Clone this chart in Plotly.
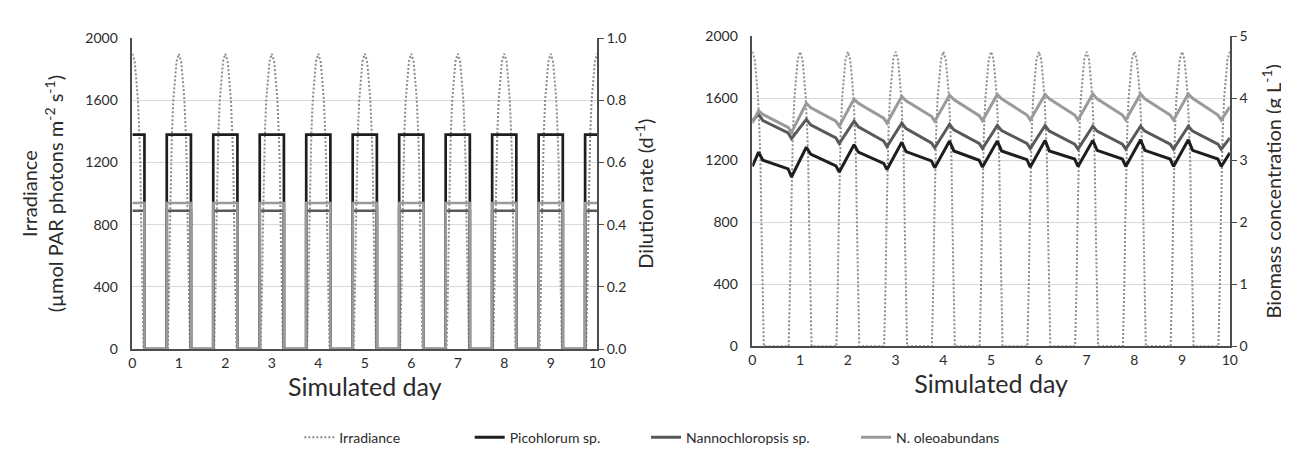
import plotly.graph_objects as go

# ---------------- data ----------------
day_ticks = list(range(0, 11))

# Irradiance: daily light profile (offset from each day's peak, days)
irr_offset = [-0.24, -0.23, -0.21, -0.19, -0.17, -0.15, -0.12, -0.08, -0.05, 0.0,
              0.05, 0.08, 0.12, 0.15, 0.17, 0.19, 0.21, 0.23, 0.24]
irr_value = [0, 100, 400, 800, 1200, 1380, 1600, 1750, 1850, 1900,
             1850, 1750, 1600, 1380, 1200, 800, 400, 100, 0]
irr_days = list(range(0, 11))

# Dilution rate pulses (d^-1): switch times and on/off state
dil_t = [0, 0.26, 0.74, 1.26, 1.74, 2.26, 2.74, 3.26, 3.74, 4.26, 4.74, 5.26,
         5.74, 6.26, 6.74, 7.26, 7.74, 8.26, 8.74, 9.26, 9.74, 10]
dil_on = [1, 0, 1, 0, 1, 0, 1, 0, 1, 0, 1, 0, 1, 0, 1, 0, 1, 0, 1, 0, 1, 1]
dil_pico = 0.69
dil_nanno = 0.445
dil_oleo = 0.47

# Biomass concentration (g L^-1)
bio_t = [0, 0.13, 0.22,
         0.75, 0.82, 1.13, 1.22, 1.75, 1.82, 2.13, 2.22, 2.75, 2.82, 3.13, 3.22,
         3.75, 3.82, 4.13, 4.22, 4.75, 4.82, 5.13, 5.22, 5.75, 5.82, 6.13, 6.22,
         6.75, 6.82, 7.13, 7.22, 7.75, 7.82, 8.13, 8.22, 8.75, 8.82, 9.13, 9.22,
         9.75, 9.82, 10]
bio_pico = [2.90, 3.13, 3.00,
            2.86, 2.73, 3.21, 3.10, 2.91, 2.81, 3.25, 3.13, 2.95, 2.85, 3.29, 3.14,
            2.99, 2.88, 3.31, 3.15, 3.00, 2.89, 3.31, 3.15, 3.01, 2.89, 3.32, 3.15,
            3.02, 2.90, 3.32, 3.16, 3.02, 2.90, 3.33, 3.16, 3.02, 2.90, 3.33, 3.16,
            3.02, 2.90, 3.12]
bio_nanno = [3.64, 3.74, 3.64,
             3.44, 3.35, 3.66, 3.57, 3.36, 3.27, 3.63, 3.54, 3.31, 3.22, 3.60, 3.51,
             3.28, 3.20, 3.58, 3.49, 3.27, 3.19, 3.56, 3.48, 3.27, 3.19, 3.56, 3.47,
             3.26, 3.18, 3.55, 3.47, 3.26, 3.18, 3.55, 3.47, 3.26, 3.18, 3.55, 3.47,
             3.26, 3.18, 3.36]
bio_oleo = [3.60, 3.80, 3.74,
            3.53, 3.45, 3.92, 3.85, 3.63, 3.55, 3.99, 3.92, 3.68, 3.60, 4.03, 3.96,
            3.71, 3.63, 4.05, 3.98, 3.72, 3.64, 4.06, 3.99, 3.73, 3.65, 4.06, 3.99,
            3.73, 3.65, 4.07, 3.99, 3.73, 3.65, 4.07, 3.99, 3.73, 3.65, 4.07, 4.00,
            3.73, 3.65, 3.86]

series_names = ["Irradiance", "Picohlorum sp.", "Nannochloropsis sp.", "N. oleoabundans"]

# ---------------- build ----------------
irr_t, irr_v = [], []
for d in irr_days:
    for off, val in zip(irr_offset, irr_value):
        t = d + off
        if 0 <= t <= 10:
            irr_t.append(round(t, 4))
            irr_v.append(val)

C_IRR = "#8c8c8c"
C_PICO = "#1e1e1e"
C_NANNO = "#595959"
C_OLEO = "#9a9a9a"
FONT = "Lato"
TXT = "#2b2b2b"
AX = "#4d4d4d"
GRID = "#d9d9d9"
DOT = "2px,2px"

fig = go.Figure()

# Left panel
fig.add_trace(go.Scatter(x=irr_t, y=irr_v, mode="lines", name=series_names[0],
                         line=dict(color=C_IRR, width=2, dash=DOT),
                         xaxis="x", yaxis="y", showlegend=False))
for lvl, col, nm in [(dil_pico, C_PICO, series_names[1]),
                     (dil_nanno, C_NANNO, series_names[2]),
                     (dil_oleo, C_OLEO, series_names[3])]:
    fig.add_trace(go.Scatter(x=dil_t, y=[lvl * on for on in dil_on], mode="lines",
                             name=nm, line=dict(color=col, width=2.7, shape="hv"),
                             xaxis="x", yaxis="y2", showlegend=False))

# Right panel
fig.add_trace(go.Scatter(x=irr_t, y=irr_v, mode="lines", name=series_names[0],
                         line=dict(color=C_IRR, width=2, dash=DOT),
                         xaxis="x2", yaxis="y3", legend="legend"))
for vals, col, nm, lg in [(bio_pico, C_PICO, series_names[1], "legend2"),
                          (bio_nanno, C_NANNO, series_names[2], "legend3"),
                          (bio_oleo, C_OLEO, series_names[3], "legend4")]:
    fig.add_trace(go.Scatter(x=bio_t, y=vals, mode="lines", name=nm,
                             line=dict(color=col, width=3),
                             xaxis="x2", yaxis="y4", legend=lg))

tickfont = dict(family=FONT, size=14, color=TXT)
titlefont = dict(family=FONT, size=20, color=TXT)
xtitlefont = dict(family=FONT, size=25, color=TXT)

xcommon = dict(range=[0, 10], tickvals=day_ticks, showgrid=False, zeroline=False,
               showline=True, linecolor=AX, linewidth=1.5, ticks="",
               tickfont=tickfont, title_font=xtitlefont, title_standoff=2)
ycommon = dict(range=[0, 2000], tickvals=[0, 400, 800, 1200, 1600, 2000],
               showgrid=True, gridcolor=GRID, gridwidth=1, zeroline=False,
               showline=True, linecolor=AX, linewidth=1.5, ticks="",
               ticklabelstandoff=10, tickfont=tickfont, title_font=titlefont)

yl_dom = [1 - 345 / 456, 1 - 22 / 456]
yr_dom = [1 - 342 / 456, 1 - 20 / 456]

fig.update_layout(
    width=1289, height=456,
    margin=dict(l=0, r=0, t=0, b=0),
    paper_bgcolor="white", plot_bgcolor="white",
    font=dict(family=FONT, color=TXT),
    xaxis=dict(domain=[121.5 / 1289, 590.7 / 1289], anchor="y",
               title_text="Simulated day", **xcommon),
    yaxis=dict(domain=yl_dom, anchor="x",
               title_text="Irradiance<br>(µmol PAR photons m<sup>-2</sup> s<sup>-1</sup>)",
               title_standoff=16, **ycommon),
    yaxis2=dict(overlaying="y", anchor="x", side="right", range=[0, 1],
                tickvals=[0, 0.2, 0.4, 0.6, 0.8, 1.0], tickformat=".1f",
                showgrid=False, zeroline=False, showline=True, linecolor=AX,
                linewidth=1.5, ticks="outside", ticklen=5, tickcolor=AX,
                tickfont=tickfont, title_text="Dilution rate (d<sup>-1</sup>)",
                title_font=titlefont, title_standoff=14),
    xaxis2=dict(domain=[747.3 / 1289, 1229.3 / 1289], anchor="y3",
                title_text="Simulated day", **xcommon),
    yaxis3=dict(domain=yr_dom, anchor="x2", **ycommon),
    yaxis4=dict(overlaying="y3", anchor="x2", side="right", range=[0, 5],
                tickvals=[0, 1, 2, 3, 4, 5], showgrid=False, zeroline=False,
                showline=True, linecolor=AX, linewidth=1.5, ticks="outside",
                ticklen=5, tickcolor=AX, tickfont=tickfont,
                title_text="Biomass concentration (g L<sup>-1</sup>)",
                title_font=titlefont, title_standoff=20),
)

leg_font = dict(family=FONT, size=14, color=TXT)
for key, xpx in [("legend", 290), ("legend2", 462), ("legend3", 640), ("legend4", 852)]:
    fig.update_layout({key: dict(x=xpx / 1289, xanchor="left", y=(456 - 437) / 456,
                                 yanchor="middle", orientation="h", font=leg_font,
                                 bgcolor="rgba(0,0,0,0)", borderwidth=0)})

fig.write_html("out.html")
